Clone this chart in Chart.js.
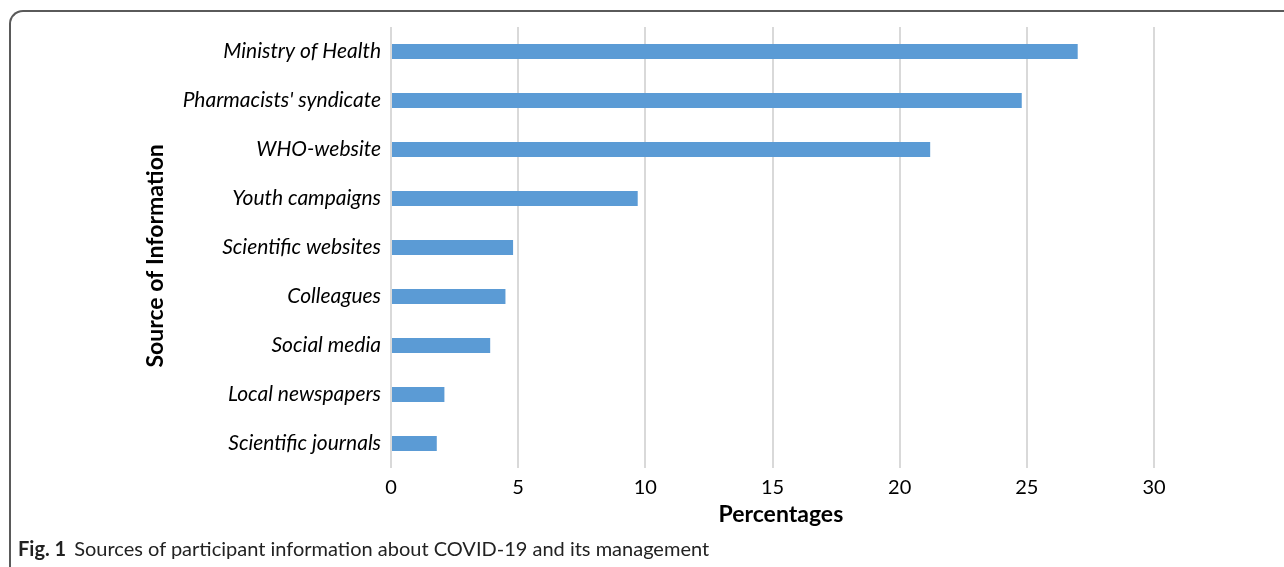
<!DOCTYPE html>
<html>
<head>
<meta charset="utf-8">
<script src="https://cdn.jsdelivr.net/npm/chart.js@4"></script>
<style>
  html, body { margin: 0; padding: 0; background: #fff; }
  #wrap { position: relative; width: 1284px; height: 567px; overflow: hidden; }
  #frame {
    position: absolute; left: 9px; top: 10px; width: 1400px; height: 700px;
    border-top: 2px solid #5a5a5a; border-left: 2px solid #5a5a5a;
    border-top-left-radius: 14px; box-sizing: border-box;
  }
  #chartBox { position: absolute; left: 0; top: 0; width: 1284px; height: 567px; }
  #caption {
    position: absolute; left: 18px; top: 536px;
    font-family: Lato, sans-serif; font-size: 20px; color: #222; white-space: nowrap;
  }
  #caption b { margin-right: 8px; }
</style>
</head>
<body>
<div id="wrap">
  <div id="frame"></div>
  <div id="chartBox"><canvas id="sourcesChart"></canvas></div>
  <div id="caption"><b>Fig. 1</b>Sources of participant information about COVID-19 and its management</div>
</div>
<script>
const sources = ['Ministry of Health', "Pharmacists' syndicate", 'WHO-website', 'Youth campaigns',
  'Scientific websites', 'Colleagues', 'Social media', 'Local newspapers', 'Scientific journals'];
const percentages = [27.0, 24.8, 21.2, 9.7, 4.8, 4.5, 3.9, 2.1, 1.8];
const xTicks = [0, 5, 10, 15, 20, 25, 30];

const ctx = document.getElementById('sourcesChart');

// nbsp padding nudges the axis titles off-centre like in the original
const pad = '\u00a0\u00a0\u00a0';

new Chart(ctx, {
  type: 'bar',
  data: {
    labels: sources,
    datasets: [{
      label: 'Percentages',
      data: percentages,
      backgroundColor: '#5b9bd5',
      borderWidth: 0,
      barPercentage: 0.62,
      categoryPercentage: 0.5
    }]
  },
  options: {
    indexAxis: 'y',
    responsive: true,
    maintainAspectRatio: false,
    animation: false,
    layout: { padding: { top: 27, left: 142, right: 130, bottom: 39 } },
    plugins: { legend: { display: false }, tooltip: { enabled: false } },
    scales: {
      x: {
        min: 0, max: 30,
        afterBuildTicks: (scale) => { scale.ticks = xTicks.map(v => ({ value: v })); },
        afterFit: (scale) => { scale.height = 60; },
        grid: { color: '#d9d9d9', lineWidth: 2, drawTicks: false },
        border: { display: false },
        ticks: { color: '#000', padding: 8, font: { family: 'Lato', size: 20 } },
        title: {
          display: true, text: pad + 'Percentages', color: '#000',
          font: { family: 'Lato', size: 23, weight: 'bold' }, padding: 0
        }
      },
      y: {
        afterFit: (scale) => { scale.width = 391 - 142; },
        grid: { display: false, drawTicks: false },
        border: { display: false },
        ticks: { color: '#000', padding: 10, font: { family: 'Lato', size: 21, style: 'italic' } },
        title: {
          display: true, text: 'Source of Information' + pad, color: '#000',
          font: { family: 'Lato', size: 23, weight: 'bold' }, padding: 0
        }
      }
    }
  }
});
</script>
</body>
</html>
